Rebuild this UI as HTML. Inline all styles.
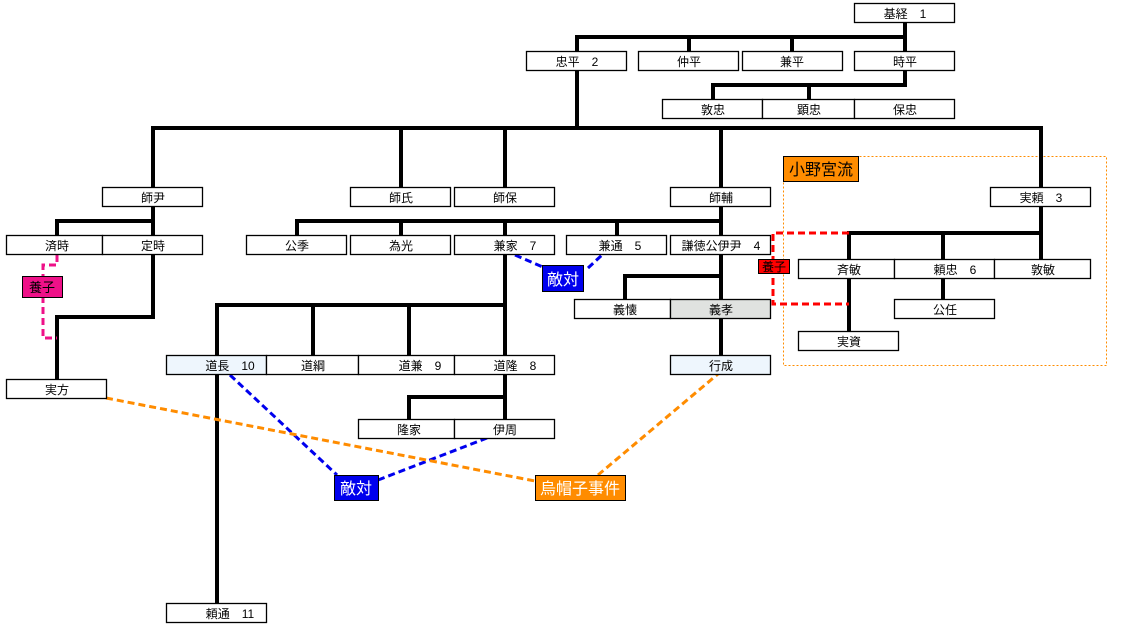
<!DOCTYPE html>
<html><head><meta charset="utf-8"><style>
html,body{margin:0;padding:0;background:#fff;}
svg{display:block;}
text{font-family:"Liberation Sans","Noto Sans CJK JP",sans-serif;}
</style></head><body>
<svg width="1128" height="634" viewBox="0 0 1128 634" xmlns="http://www.w3.org/2000/svg">
<!-- orange dotted group -->
<rect x="783.5" y="156.5" width="323" height="209" fill="none" stroke="#ff8c00" stroke-width="1" stroke-dasharray="2,2"/>
<g stroke="#000" stroke-width="4" fill="none" stroke-linecap="square">
<path d="M905 22V37M577 37H905M577 37V52M689 37V52M792 37V52M905 37V52"/>
<path d="M905 70V85M713 85H905M713 85V99M809 85V99"/>
<path d="M577 70V128M153 128H1041M153 128V187M401 128V187M505 128V187M721 128V187M1041 128V187"/>
<path d="M153 206V221M57 221H153M57 221V235M153 221V235"/>
<path d="M153 254V317M57 317H153M57 317V379"/>
<path d="M721 206V221M297 221H721M297 221V235M401 221V235M505 221V235M617 221V235M721 221V235"/>
<path d="M505 254V355M217 305H505M217 305V355M313 305V355M409 305V355"/>
<path d="M721 254V299M625 276H721M625 276V299M721 318V355"/>
<path d="M217 374V603"/>
<path d="M505 374V419M409 397H505M409 397V419"/>
<path d="M1041 206V259M849 233H1041M849 233V259M943 233V259M849 278V331M943 278V299"/>
</g>
<!-- dashed relations -->
<g fill="none" stroke-width="3" stroke-dasharray="7,4">
<path d="M57 255V265H43V338H57" stroke="#ee1188"/>
<path d="M849 233H773V304H849" stroke="#ff0000"/>
<path d="M515 255L545 268M588 268L602 255" stroke="#0000ee"/>
<path d="M230 375L337 475M378 480L487 438" stroke="#0000ee"/>
<path d="M106 398L535 481M598 475L718 374" stroke="#ff8c00"/>
</g>
<!-- boxes -->
<g stroke="#000" stroke-width="1.3" fill="#fff">
<rect x="854.5" y="3.5" width="100" height="19"/>
<rect x="526.5" y="51.5" width="100" height="19"/>
<rect x="638.5" y="51.5" width="100" height="19"/>
<rect x="742.5" y="51.5" width="100" height="19"/>
<rect x="854.5" y="51.5" width="100" height="19"/>
<rect x="662.5" y="99.5" width="100" height="19"/>
<rect x="762.5" y="99.5" width="92" height="19"/>
<rect x="854.5" y="99.5" width="100" height="19"/>
<rect x="102.5" y="187.5" width="100" height="19"/>
<rect x="350.5" y="187.5" width="100" height="19"/>
<rect x="454.5" y="187.5" width="100" height="19"/>
<rect x="670.5" y="187.5" width="100" height="19"/>
<rect x="990.5" y="187.5" width="100" height="19"/>
<rect x="6.5" y="235.5" width="96" height="19"/>
<rect x="102.5" y="235.5" width="100" height="19"/>
<rect x="246.5" y="235.5" width="100" height="19"/>
<rect x="350.5" y="235.5" width="100" height="19"/>
<rect x="454.5" y="235.5" width="100" height="19"/>
<rect x="566.5" y="235.5" width="100" height="19"/>
<rect x="670.5" y="235.5" width="100" height="19"/>
<rect x="798.5" y="259.5" width="96" height="19"/>
<rect x="894.5" y="259.5" width="100" height="19"/>
<rect x="994.5" y="259.5" width="96" height="19"/>
<rect x="574.5" y="299.5" width="96" height="19"/>
<rect x="670.5" y="299.5" width="100" height="19" fill="#e0e2e0"/>
<rect x="894.5" y="299.5" width="100" height="19"/>
<rect x="798.5" y="331.5" width="100" height="19"/>
<rect x="166.5" y="355.5" width="100" height="19" fill="#eef6fd"/>
<rect x="266.5" y="355.5" width="92" height="19"/>
<rect x="358.5" y="355.5" width="96" height="19"/>
<rect x="454.5" y="355.5" width="100" height="19"/>
<rect x="670.5" y="355.5" width="100" height="19" fill="#eef6fd"/>
<rect x="6.5" y="379.5" width="100" height="19"/>
<rect x="358.5" y="419.5" width="96" height="19"/>
<rect x="454.5" y="419.5" width="100" height="19"/>
<rect x="166.5" y="603.5" width="100" height="19"/>
</g>
<g font-size="12" fill="#000" text-anchor="middle">
<text x="905" y="18">基経　1</text>
<text x="577" y="66">忠平　2</text>
<text x="689" y="66">仲平</text>
<text x="792" y="66">兼平</text>
<text x="905" y="66">時平</text>
<text x="713" y="114">敦忠</text>
<text x="809" y="114">顕忠</text>
<text x="905" y="114">保忠</text>
<text x="153" y="202">師尹</text>
<text x="401" y="202">師氏</text>
<text x="505" y="202">師保</text>
<text x="721" y="202">師輔</text>
<text x="1041" y="202">実頼　3</text>
<text x="57" y="250">済時</text>
<text x="153" y="250">定時</text>
<text x="297" y="250">公季</text>
<text x="401" y="250">為光</text>
<text x="515" y="250">兼家　7</text>
<text x="620" y="250">兼通　5</text>
<text x="721" y="250">謙徳公伊尹　4</text>
<text x="849" y="274">斉敏</text>
<text x="955" y="274">頼忠　6</text>
<text x="1043" y="274">敦敏</text>
<text x="625" y="314">義懐</text>
<text x="721" y="314">義孝</text>
<text x="945" y="314">公任</text>
<text x="849" y="346">実資</text>
<text x="230" y="370">道長　10</text>
<text x="313" y="370">道綱</text>
<text x="420" y="370">道兼　9</text>
<text x="515" y="370">道隆　8</text>
<text x="721" y="370">行成</text>
<text x="57" y="394">実方</text>
<text x="409" y="434">隆家</text>
<text x="505" y="434">伊周</text>
<text x="230" y="618">頼通　11</text>
</g>
<!-- labels -->
<rect x="22.5" y="276.5" width="40" height="21" fill="#ee1188" stroke="#000"/>
<text x="42" y="292" font-size="13" text-anchor="middle">養子</text>
<rect x="758.5" y="259.5" width="31" height="14" fill="#ff0000" stroke="#000"/>
<text x="774" y="271" font-size="12" text-anchor="middle">養子</text>
<rect x="783.5" y="156.5" width="75" height="25" fill="#ff8c00" stroke="#000"/>
<text x="821" y="175" font-size="16" text-anchor="middle">小野宮流</text>
<rect x="542.5" y="265.5" width="41" height="26" fill="#0000ee" stroke="#000"/>
<text x="563" y="285" font-size="16" fill="#fff" text-anchor="middle">敵対</text>
<rect x="334.5" y="475.5" width="44" height="25" fill="#0000ee" stroke="#000"/>
<text x="356" y="494" font-size="16" fill="#fff" text-anchor="middle">敵対</text>
<rect x="535.5" y="475.5" width="90" height="25" fill="#ff8c00" stroke="#000"/>
<text x="580" y="494" font-size="16" fill="#fff" text-anchor="middle">烏帽子事件</text>
</svg>
</body></html>
